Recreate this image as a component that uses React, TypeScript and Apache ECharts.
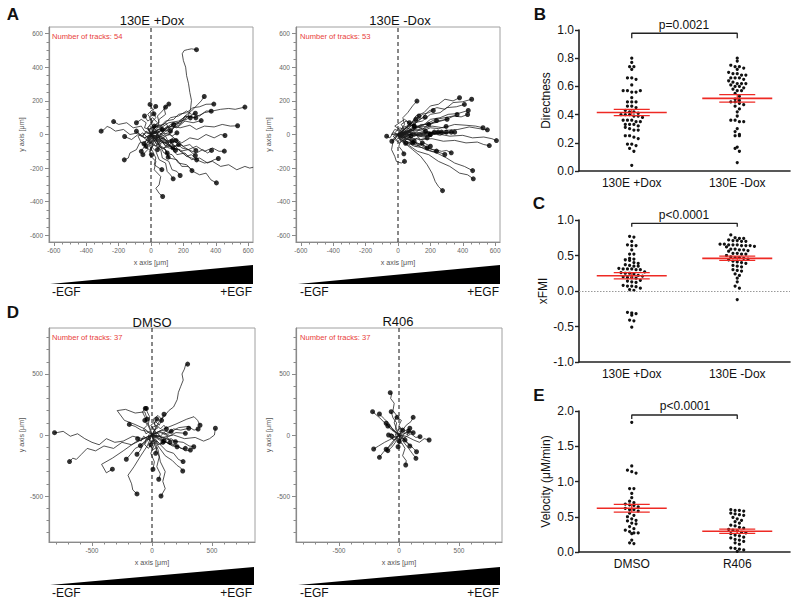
import React, { useEffect, useRef } from "react";
import * as echarts from "echarts";

const FONT = "'Liberation Sans', Arial, Helvetica, sans-serif";

// ---------- Panel B: Directness ----------
const catsB = ["130E +Dox", "130E -Dox"];
const directPlus = [0.80,0.77,0.74,0.74,0.72,0.66,0.66,0.65,0.61,0.57,0.57,0.56,0.56,0.57,0.52,0.49,0.49,0.49,0.46,0.46,0.45,0.43,0.42,0.42,0.41,0.40,0.40,0.40,0.39,0.39,0.38,0.36,0.36,0.36,0.35,0.35,0.33,0.33,0.33,0.32,0.31,0.30,0.29,0.29,0.25,0.25,0.24,0.23,0.19,0.19,0.18,0.16,0.14,0.04];
const directMinus = [0.80,0.78,0.75,0.74,0.74,0.73,0.72,0.70,0.69,0.69,0.68,0.68,0.66,0.66,0.66,0.65,0.64,0.63,0.62,0.62,0.62,0.61,0.60,0.60,0.59,0.58,0.57,0.57,0.55,0.53,0.51,0.50,0.49,0.49,0.48,0.47,0.46,0.44,0.42,0.39,0.36,0.36,0.35,0.35,0.30,0.28,0.26,0.25,0.25,0.17,0.16,0.14,0.06];
const directMean = [0.415, 0.515];
const directSem = [0.022, 0.026];
const directP = "p=0.0021";

// ---------- Panel C: xFMI ----------
const xfmiPlus = [0.77,0.76,0.70,0.65,0.64,0.64,0.58,0.52,0.52,0.46,0.45,0.44,0.43,0.40,0.39,0.37,0.36,0.35,0.35,0.32,0.31,0.31,0.31,0.30,0.30,0.27,0.26,0.25,0.25,0.24,0.22,0.21,0.20,0.19,0.19,0.18,0.15,0.14,0.13,0.12,0.08,0.07,0.07,0.06,0.04,0.02,0.01,-0.30,-0.31,-0.32,-0.34,-0.41,-0.42,-0.51];
const xfmiMinus = [0.79,0.75,0.74,0.74,0.72,0.71,0.71,0.70,0.70,0.66,0.66,0.65,0.65,0.65,0.64,0.64,0.64,0.63,0.62,0.59,0.59,0.58,0.58,0.57,0.56,0.53,0.53,0.52,0.52,0.50,0.48,0.47,0.47,0.46,0.45,0.44,0.42,0.41,0.40,0.39,0.36,0.35,0.34,0.30,0.29,0.28,0.24,0.22,0.18,0.13,0.07,0.04,-0.12];
const xfmiMean = [0.215, 0.46];
const xfmiSem = [0.045, 0.03];
const xfmiP = "p<0.0001";

// ---------- Panel E: Velocity ----------
const catsE = ["DMSO", "R406"];
const velDMSO = [1.84,1.22,1.16,1.14,1.12,0.90,0.90,0.83,0.77,0.72,0.70,0.68,0.67,0.66,0.64,0.62,0.60,0.60,0.58,0.55,0.52,0.50,0.47,0.45,0.44,0.41,0.40,0.36,0.33,0.31,0.29,0.27,0.27,0.26,0.17,0.13,0.12];
const velR406 = [0.60,0.59,0.59,0.58,0.55,0.54,0.53,0.52,0.49,0.47,0.45,0.43,0.41,0.38,0.37,0.35,0.34,0.32,0.31,0.30,0.28,0.27,0.26,0.24,0.23,0.21,0.20,0.18,0.17,0.15,0.13,0.11,0.06,0.05,0.04,0.03,0.01];
const velMean = [0.62, 0.295];
const velSem = [0.055, 0.03];
const velP = "p<0.0001";

// ---------- Track plots (x,y pairs in µm, each track starts at origin) ----------
const tracksDox: number[][] = [
  [0,0, 30,20, 50,-10, 90,30, 120,10, 150,60, 190,70, 230,110, 244,150, 250,203, 240,250, 232,302, 220,350, 214,401, 200,440, 193,481, 205,500, 224,505, 250,510, 281,505],
  [0,0, 40,-20, 70,10, 110,0, 140,40, 180,60, 210,110, 250,140, 290,180, 310,200, 329,226],
  [0,0, 20,40, 60,50, 90,80, 140,90, 170,120, 220,130, 260,160, 300,165, 340,180, 388,181],
  [0,0, 50,30, 100,20, 130,60, 190,80, 230,110, 270,100, 330,130, 380,140, 430,150, 480,155, 520,150, 580,163],
  [0,0, 30,-30, 70,0, 100,30, 140,40, 180,80, 220,90, 260,120, 300,110, 340,140, 372,139],
  [0,0, -20,30, 30,50, 80,30, 130,50, 180,40, 240,55, 280,30, 330,50, 390,45, 440,60, 490,50, 535,52],
  [0,0, 30,-30, 60,-10, 100,-40, 140,-20, 190,-50, 240,-20, 290,-30, 340,0, 390,-20, 430,0, 457,-6],
  [0,0, 40,-40, 90,-50, 130,-80, 180,-60, 230,-90, 280,-70, 330,-100, 380,-80, 420,-100, 453,-99],
  [0,0, 20,-40, 60,-30, 90,-70, 140,-60, 180,-100, 230,-90, 280,-110, 320,-90, 350,-110, 374,-95],
  [0,0, 30,-50, 80,-80, 120,-70, 160,-120, 210,-110, 250,-150, 300,-140, 350,-170, 390,-150, 416,-143],
  [0,0, 50,-60, 80,-110, 130,-120, 170,-170, 220,-180, 260,-220, 300,-240, 340,-230, 370,-270, 404,-288],
  [0,0, 40,-70, 90,-90, 110,-140, 160,-150, 190,-190, 230,-190, 253,-215],
  [0,0, 20,-60, 60,-90, 70,-140, 110,-160, 130,-210, 160,-220, 180,-244],
  [0,0, -10,-60, 30,-100, 50,-150, 90,-170, 100,-220, 120,-240, 137,-264],
  [0,0, 10,-60, -10,-120, 30,-160, 20,-210, 60,-250, 50,-300, 30,-320, 50,-350, 72,-369],
  [0,0, -20,-50, 10,-100, 30,-140, 20,-180, 50,-200, 67,-209],
  [0,0, 30,-30, 50,-70, 90,-90, 106,-135],
  [0,0, -20,-40, 10,-70, -10,-100, 4,-121],
  [0,0, 50,-40, 90,-30, 130,-80, 180,-90, 220,-130, 250,-120, 282,-151],
  [0,0, 60,-20, 100,-50, 150,-40, 190,-80, 230,-90, 274,-125],
  [0,0, 50,-10, 100,-40, 150,-30, 200,-70, 240,-60, 277,-95],
  [0,0, 40,30, 80,20, 120,60, 170,70, 210,110, 243,99],
  [0,0, 30,50, 80,60, 120,100, 170,110, 220,140, 250,120, 274,127],
  [0,0, 60,20, 110,50, 160,40, 210,80, 260,70, 310,83],
  [0,0, 20,50, 50,70, 40,110, 70,140, 90,163],
  [0,0, 40,40, 50,90, 90,120, 80,160, 110,181],
  [0,0, -20,40, 10,80, -20,120, 10,150, -6,179],
  [0,0, 20,30, 0,70, 30,100, 10,140, 29,167],
  [0,0, -20,40, 10,70, -10,100, 18,123],
  [0,0, -40,20, -60,50, -110,40, -150,70, -200,60, -231,77],
  [0,0, -40,-20, -80,10, -130,0, -170,30, -220,20, -250,40, -271,48, -290,30, -308,20],
  [0,0, -30,10, -60,-10, -90,20],
  [0,0, -40,-20, -80,0, -120,-30, -163,-12],
  [0,0, -30,-40, -70,-50, -90,-90, -130,-110, -140,-140, -165,-151],
  [0,0, -20,-20, -43,-56],
  [0,0, 40,-30, 80,-20, 110,-60, 151,-95],
  [0,0, 50,-20, 80,-50, 110,-60, 135,-79],
  [0,0, 40,20, 80,-10, 120,0, 155,-36],
  [0,0, 60,-40, 110,-80, 170,-90, 220,-130, 280,-150, 330,-170, 380,-160, 430,-190, 480,-180, 530,-210, 580,-190, 610,-200, 631,-195],
  [0,0, 60,40, 110,70, 170,80, 220,110, 277,99],
  [0,0, 20,-30, -10,-50, 30,-70, 60,-40, 40,10, 70,30],
  [0,0, -30,20, -50,-10, -20,-40, 10,-20, -10,30, 20,50],
  [0,0, 40,10, 20,40, 50,60, 80,30, 100,50, 120,20],
  [0,0, -20,-20, -50,10, -80,-10, -60,-50, -30,-70],
  [0,0, 10,40, 40,70, 10,100, -20,80, -40,110],
  [0,0, 30,-10, 60,-30, 90,-10, 110,-50, 80,-80, 100,-110],
  [0,0, -10,-40, 20,-60, -10,-90, -40,-70, -60,-100],
  [0,0, 50,20, 30,-20, 70,-10, 100,10, 130,-10, 160,10],
  [0,0, 20,20, 40,-10, 70,10, 60,50, 90,70, 110,40, 140,60],
  [0,0, -10,30, -40,40, -30,70, -60,90, -90,70],
  [0,0, 30,10, 50,-20, 80,-50, 120,-40, 140,-70, 170,-60],
  [0,0, -20,-10, -10,-40, -40,-60, -20,-90, -50,-120],
  [0,0, 10,20, 40,10, 30,-30, 60,-60, 40,-90],
  [0,0, -30,-30, 0,-50, 30,-30, 50,-60, 80,-40, 110,-70, 130,-40],
];

const tracksNoDox: number[][] = [
  [0,0, 20,30, 40,60, 30,100, 60,130, 90,170, 117,199],
  [0,0, 40,30, 80,60, 110,110, 160,130, 200,170, 250,180, 290,210, 340,200, 380,219],
  [0,0, 50,40, 100,60, 150,100, 190,140, 240,160, 290,150, 340,190, 400,195, 455,210],
  [0,0, 60,30, 100,70, 150,80, 200,120, 260,130, 300,160, 360,165, 410,179],
  [0,0, 50,10, 100,40, 150,50, 200,90, 260,100, 310,120, 370,125, 434,143],
  [0,0, 60,20, 120,50, 170,60, 230,90, 290,100, 340,110, 390,105, 430,119],
  [0,0, 40,30, 70,60, 110,80, 150,120, 190,130, 218,143],
  [0,0, 30,20, 60,50, 100,60, 130,90, 168,103],
  [0,0, 50,20, 100,30, 140,60, 190,60, 238,83],
  [0,0, 60,10, 120,40, 180,50, 240,80, 300,90, 365,119],
  [0,0, 50,20, 110,40, 160,60, 230,70, 303,91],
  [0,0, 50,0, 100,30, 150,20, 200,40, 250,35, 297,48],
  [0,0, 40,-10, 90,10, 140,-5, 190,15, 230,5, 269,14],
  [0,0, 60,15, 120,-5, 170,20, 230,5, 299,14],
  [0,0, 50,-10, 110,15, 170,0, 240,20, 290,5, 329,14],
  [0,0, 70,10, 130,-10, 200,10, 260,-5, 310,15, 350,14],
  [0,0, 50,10, 100,-10, 160,5, 224,14],
  [0,0, 60,20, 120,0, 190,15, 248,14],
  [0,0, 40,-20, 90,10, 140,-10, 198,0],
  [0,0, 70,20, 140,30, 210,50, 280,40, 350,60, 420,55, 480,50, 525,40],
  [0,0, 70,-10, 150,15, 220,5, 300,25, 370,30, 440,45, 500,35, 552,28],
  [0,0, 80,0, 160,-15, 240,5, 320,-10, 400,-5, 460,-20, 530,-15, 580,-25, 608,-36],
  [0,0, 70,-20, 140,-30, 210,-25, 280,-40, 350,-35, 420,-50, 490,-45, 530,-60, 564,-66],
  [0,0, 60,-30, 120,-50, 170,-80, 220,-90, 270,-100, 300,-95, 329,-109],
  [0,0, 50,-40, 100,-70, 160,-80, 210,-100, 250,-105, 289,-119],
  [0,0, 50,-20, 100,-50, 150,-60, 200,-85, 238,-99],
  [0,0, 15,-40, 5,-70, 25,-95, 36,-115],
  [0,0, -20,-15, -30,-30, -38,-40],
  [0,0, 50,-40, 110,-60, 170,-90, 240,-110, 300,-140, 350,-170, 410,-190, 461,-215],
  [0,0, 60,-60, 120,-100, 190,-120, 250,-160, 320,-190, 380,-230, 430,-240, 465,-264],
  [0,0, 40,-50, 90,-90, 140,-130, 180,-180, 210,-230, 230,-280, 250,-310, 275,-334],
  [0,0, 20,-30, 47,-52],
  [0,0, -30,-40, -40,-90, -20,-130, -10,-160, 20,-170, 40,-160],
  [0,0, 40,40, 80,70, 130,110],
  [0,0, -30,10, -50,-20, -70,-10],
  [0,0, 20,20, 50,0, 80,30, 110,10, 140,40, 170,20],
  [0,0, 30,-20, 60,-10, 90,-40, 120,-20, 150,-50],
  [0,0, -20,10, 10,40, 40,30, 70,60, 100,50],
  [0,0, 20,-40, 50,-60, 80,-40, 110,-70, 150,-60, 180,-80],
  [0,0, -30,-10, -10,-30, 20,-10, 50,-30, 80,-10],
  [0,0, 10,30, -20,50, 10,70, 40,90, 70,70],
  [0,0, 40,0, 70,20, 100,-10, 130,10, 160,-10, 200,0],
  [0,0, 20,10, 0,-20, 30,-40, 60,-20, 90,-50],
  [0,0, 30,10, 60,40, 90,20, 120,50, 150,30, 190,60],
  [0,0, 20,-20, 50,10, 80,-20, 110,0, 140,-30, 180,-20],
  [0,0, -20,-30, 10,-50, 40,-30, 70,-60, 100,-40],
  [0,0, 40,30, 20,60, 50,80, 80,60, 110,90],
  [0,0, -40,0, -20,30, 10,20, 40,50, 70,30, 100,50],
  [0,0, 30,0, 50,-30, 90,-30, 120,-60, 160,-50, 200,-70],
];

const tracksDMSO: number[][] = [
  [0,0, 30,50, 60,110, 100,150, 140,200, 180,230, 210,290, 220,350, 240,400, 260,450, 250,500, 270,540, 280,575, 297,581],
  [0,0, -20,50, -40,100, -60,150, -80,190, -56,218],
  [0,0, -10,40, -30,90, -20,150, -40,190, -47,218],
  [0,0, -40,30, -90,40, -140,70, -189,87],
  [0,0, 60,30, 120,10, 180,50, 240,40, 306,55],
  [0,0, 80,40, 150,20, 220,60, 300,70, 350,40, 384,49],
  [0,0, 90,-20, 180,0, 270,-30, 360,-20, 430,-50, 480,-30, 520,0, 528,55],
  [0,0, 70,20, 140,-10, 200,20, 278,14],
  [0,0, 60,-10, 120,-40, 160,-30, 195,-55],
  [0,0, 60,-40, 120,-60, 170,-90, 209,-96],
  [0,0, 70,-30, 140,-70, 200,-80, 240,-110, 278,-109],
  [0,0, 80,-40, 160,-80, 230,-100, 280,-130, 320,-123],
  [0,0, 100,-20, 180,-50, 260,-60, 310,-90, 348,-96],
  [0,0, 60,-70, 120,-130, 180,-150, 220,-200, 259,-218],
  [0,0, 50,-90, 110,-170, 170,-210, 210,-250, 240,-270, 256,-295],
  [0,0, -80,-30, -160,-10, -240,-50, -310,-60, -380,-30, -440,-80, -500,-60, -560,-30, -620,10, -680,-10, -740,30, -790,20, -812,19],
  [0,0, -90,-40, -170,-80, -250,-60, -320,-110, -400,-90, -470,-130, -540,-110, -590,-160, -630,-200, -660,-190, -687,-218],
  [0,0, -50,-40, -100,-90, -140,-110, -180,-160, -214,-199],
  [0,0, -40,-50, -80,-90, -100,-130, -125,-158],
  [0,0, -30,-30, -60,-60, -97,-87],
  [0,0, 20,-80, -10,-150, 20,-220, 8,-281],
  [0,0, 30,-100, 60,-180, 40,-260, 70,-320, 56,-363],
  [0,0, 50,-120, 70,-220, 110,-300, 90,-380, 110,-440, 75,-500],
  [0,0, -40,-90, -100,-180, -150,-260, -200,-330, -170,-400, -160,-450, -125,-483],
  [0,0, -140,-60, -240,-130, -330,-190, -420,-240, -380,-310, -330,-280],
  [0,0, 100,50, 200,90, 290,130, 350,150, 380,120, 400,80],
  [0,0, -60,50, -150,90, -230,120, -290,200, -220,210, -140,180, -60,190, -40,130],
  [0,0, 20,40, -10,80, 30,110, 60,80, 80,120],
  [0,0, -30,-20, -10,-60, 30,-40, 50,-80, 90,-60],
  [0,0, 40,20, 70,-10, 100,20, 130,0, 160,30],
  [0,0, -20,30, -50,10, -70,50, -40,80, -60,120],
  [0,0, 10,-40, -20,-80, 10,-120, 40,-100, 30,-150],
  [0,0, 30,60, 10,130, 50,160, 80,130, 100,170],
  [0,0, -40,-30, -70,-10, -90,-50, -120,-30],
  [0,0, 30,30, 0,60, 40,80, 70,50, 100,80, 120,50],
  [0,0, -30,0, -20,-40, 10,-70, 40,-50, 70,-80, 100,-50],
  [0,0, 20,-20, 60,0, 90,-40, 130,-20, 150,-60],
  [0,0, -20,-40, -50,-30, -60,-80, -30,-110, -10,-80],
  [0,0, 40,-10, 20,40, 50,60, 20,90, 40,130],
];

const tracksR406: number[][] = [
  [0,0, -20,50, -40,100, -20,160, -50,200, -40,260, -70,300, -60,340, -73,347],
  [0,0, -30,50, -20,100, -50,140, -65,191],
  [0,0, -60,40, -110,90, -160,140, -220,191],
  [0,0, -50,40, -80,90, -120,130, -163,172],
  [0,0, 20,40, 0,80, 20,120, -17,145],
  [0,0, 30,40, 60,80, 100,110, 118,145],
  [0,0, -30,30, -60,60, -107,96],
  [0,0, -20,20, -50,40, -93,74],
  [0,0, -30,-20, -60,10, -87,0],
  [0,0, 30,20, 60,40, 90,55],
  [0,0, 40,10, 80,30, 118,19],
  [0,0, 50,-20, 100,10, 140,-20, 175,-14],
  [0,0, 60,-10, 120,-40, 170,-60, 210,-30, 251,-41],
  [0,0, 50,-40, 90,-80, 120,-110, 146,-137],
  [0,0, 40,-60, 80,-110, 110,-150, 141,-191],
  [0,0, 20,-60, 50,-110, 30,-170, 60,-210, 56,-246],
  [0,0, -50,-50, -90,-100, -130,-140, -163,-183],
  [0,0, -60,-30, -120,-60, -170,-90, -211,-115],
  [0,0, -40,-50, -70,-90, -107,-117],
  [0,0, -30,-60, -60,-100, -93,-128],
  [0,0, 10,-50, -8,-96],
  [0,0, 40,-40, 70,-70, 90,-90],
  [0,0, 20,20, -10,40, 10,60, 30,40],
  [0,0, -20,-20, 10,-40, 30,-20, 50,-40],
  [0,0, 30,-10, 50,20, 70,0, 80,30],
  [0,0, -30,10, -20,-30, -50,-40, -60,-10],
  [0,0, 10,-30, -10,-60, 20,-70, 0,-50],
];

const trackTitles = ["130E +Dox", "130E -Dox", "DMSO", "R406"];
const trackCounts = [54, 53, 37, 37];
const ticksA = [-600, -400, -200, 0, 200, 400, 600];
const ticksD = [-500, 0, 500];

function range(a: number, b: number, step: number) {
  const r: number[] = [];
  for (let v = a; v <= b + 1e-9; v += step) r.push(Math.round(v));
  return r;
}

function toPts(flat: number[]) {
  const pts: number[][] = [];
  for (let i = 0; i < flat.length; i += 2) pts.push([flat[i], flat[i + 1]]);
  return pts;
}

// horizontal spreading of dots that share a pixel row (column-scatter layout)
function swarmOffsets(values: number[], pxPerUnit: number, rowPx = 4.2, stepPx = 4.3) {
  const rows = new Map<number, number[]>();
  values.forEach((v, i) => {
    const r = Math.round((v * pxPerUnit) / rowPx);
    if (!rows.has(r)) rows.set(r, []);
    rows.get(r)!.push(i);
  });
  const off = new Array(values.length).fill(0);
  rows.forEach((ids) => {
    const n = ids.length;
    ids.forEach((id, j) => {
      off[id] = (j - (n - 1) / 2) * stepPx;
    });
  });
  return off;
}

export default function App() {
  const ref = useRef<HTMLDivElement>(null);

  useEffect(() => {
    if (!ref.current) return;
    const chart = echarts.init(ref.current, undefined, { renderer: "svg" });

    const trackPanels = [
      { tracks: tracksDox, rx: 630, ry: 640, major: ticksA, minor: range(-600, 600, 50), grid: { left: 49, top: 27, width: 204, height: 215 } },
      { tracks: tracksNoDox, rx: 630, ry: 640, major: ticksA, minor: range(-600, 600, 50), grid: { left: 296, top: 27, width: 204, height: 215 } },
      { tracks: tracksDMSO, rx: 858, ry: 877, major: ticksD, minor: range(-800, 800, 100), grid: { left: 49, top: 328, width: 206, height: 214 } },
      { tracks: tracksR406, rx: 858, ry: 877, major: ticksD, minor: range(-800, 800, 100), grid: { left: 296, top: 328, width: 206, height: 214 } },
    ];

    const dotPanels = [
      { cats: catsB, groups: [directPlus, directMinus], mean: directMean, sem: directSem, min: 0, max: 1, interval: 0.2, name: "Directness", grid: { left: 579, top: 30, width: 211, height: 141 }, bracket: [0.941, 0.977], zero: false },
      { cats: catsB, groups: [xfmiPlus, xfmiMinus], mean: xfmiMean, sem: xfmiSem, min: -1, max: 1, interval: 0.5, name: "xFMI", grid: { left: 579, top: 220, width: 211, height: 142 }, bracket: [0.906, 0.953], zero: true },
      { cats: catsE, groups: [velDMSO, velR406], mean: velMean, sem: velSem, min: 0, max: 2, interval: 0.5, name: "Velocity (\u03bcM/min)", grid: { left: 579, top: 411, width: 211, height: 141 }, bracket: [1.887, 1.943], zero: false },
    ];

    const grids: any[] = [];
    const xAxes: any[] = [];
    const yAxes: any[] = [];
    const series: any[] = [];
    const axisGray = "#8a8a8a";

    trackPanels.forEach((p, g) => {
      grids.push({ ...p.grid, show: true, borderColor: "#a0a0a0", borderWidth: 1, backgroundColor: "transparent" });
      const common = { type: "value", gridIndex: g, splitLine: { show: false } };
      xAxes.push({
        ...common, min: -p.rx, max: p.rx, position: "bottom",
        axisLine: { onZero: false, lineStyle: { color: axisGray, width: 1.2 } },
        axisTick: { customValues: p.major, length: 4, lineStyle: { color: axisGray } },
        axisLabel: { customValues: p.major, fontSize: 6.5, color: "#666", margin: 5, fontFamily: FONT },
        name: "x axis [\u03bcm]", nameLocation: "middle", nameGap: 17,
        nameTextStyle: { fontSize: 7.2, color: "#555", fontFamily: FONT },
      });
      xAxes.push({
        ...common, min: -p.rx, max: p.rx, position: "bottom",
        axisLine: { show: false, onZero: false },
        axisTick: { customValues: p.minor, length: 2.5, lineStyle: { color: axisGray } },
        axisLabel: { show: false },
      });
      yAxes.push({
        ...common, min: -p.ry, max: p.ry, position: "left",
        axisLine: { onZero: false, lineStyle: { color: axisGray, width: 1.2 } },
        axisTick: { customValues: p.major, length: 4, lineStyle: { color: axisGray } },
        axisLabel: { customValues: p.major, fontSize: 6.5, color: "#666", margin: 6, fontFamily: FONT },
        name: "y axis [\u03bcm]", nameLocation: "middle", nameGap: 24, nameRotate: 90,
        nameTextStyle: { fontSize: 7.2, color: "#555", fontFamily: FONT },
      });
      yAxes.push({
        ...common, min: -p.ry, max: p.ry, position: "left",
        axisLine: { show: false, onZero: false },
        axisTick: { customValues: p.minor, length: 2.5, lineStyle: { color: axisGray } },
        axisLabel: { show: false },
      });
      // dashed x = 0 line
      series.push({
        type: "line", xAxisIndex: 2 * g, yAxisIndex: 2 * g, silent: true, symbol: "none",
        data: [[0, -p.ry], [0, p.ry]],
        lineStyle: { color: "#111", width: 1, type: [4, 3] },
      });
      series.push({
        type: "lines", coordinateSystem: "cartesian2d", xAxisIndex: 2 * g, yAxisIndex: 2 * g,
        polyline: true, silent: true, clip: true,
        lineStyle: { color: "#1a1a1a", width: 0.75, opacity: 1 },
        data: p.tracks.map((t) => ({ coords: toPts(t) })),
      });
      series.push({
        type: "scatter", xAxisIndex: 2 * g, yAxisIndex: 2 * g, silent: true,
        symbol: "circle", symbolSize: 5, itemStyle: { color: "#000" },
        data: p.tracks.map((t) => t.slice(-2)),
      });
    });

    dotPanels.forEach((p, k) => {
      const gi = 4 + k;
      const ai = 8 + k;
      grids.push({ ...p.grid });
      xAxes.push({
        type: "category", gridIndex: gi, data: p.cats, boundaryGap: true,
        axisLine: { onZero: false, lineStyle: { color: "#222", width: 1.6 } },
        axisTick: { alignWithLabel: true, length: 4, lineStyle: { color: "#222", width: 1.4 } },
        axisLabel: { fontSize: 12, color: "#111", margin: 6, fontFamily: FONT },
        splitLine: { show: false },
      });
      yAxes.push({
        type: "value", gridIndex: gi, min: p.min, max: p.max, interval: p.interval,
        axisLine: { show: true, onZero: false, lineStyle: { color: "#222", width: 1.6 } },
        axisTick: { show: true, length: 4, lineStyle: { color: "#222", width: 1.4 } },
        axisLabel: { fontSize: 12, color: "#111", margin: 5, fontFamily: FONT, formatter: (v: number) => v.toFixed(1) },
        splitLine: { show: false },
        name: p.name, nameLocation: "middle", nameGap: 27, nameRotate: 90,
        nameTextStyle: { fontSize: 12, color: "#111", fontFamily: FONT },
      });
      const pxPerUnit = p.grid.height / (p.max - p.min);
      const dots: number[][] = [];
      p.groups.forEach((vals, c) => {
        const off = swarmOffsets(vals, pxPerUnit);
        vals.forEach((v, i) => dots.push([c, v, off[i]]));
      });
      // bracket + optional zero line
      series.push({
        type: "line", xAxisIndex: ai, yAxisIndex: ai, silent: true, symbol: "none",
        data: [[0, p.bracket[0]], [0, p.bracket[1]], [1, p.bracket[1]], [1, p.bracket[0]]],
        lineStyle: { color: "#222", width: 1.3 },
        markLine: p.zero
          ? { silent: true, symbol: "none", label: { show: false }, data: [{ yAxis: 0 }], lineStyle: { color: "#999", type: [1.5, 1.5], width: 1 } }
          : undefined,
      });
      series.push({
        type: "custom", xAxisIndex: ai, yAxisIndex: ai, silent: true,
        data: dots,
        renderItem: (_params: any, api: any) => {
          const pt = api.coord([api.value(0), api.value(1)]);
          return { type: "circle", shape: { cx: pt[0] + api.value(2), cy: pt[1], r: 1.6 }, style: { fill: "#111" } };
        },
      });
      series.push({
        type: "custom", xAxisIndex: ai, yAxisIndex: ai, silent: true, z: 5,
        data: p.mean.map((m, c) => [c, m, p.sem[c]]),
        renderItem: (_params: any, api: any) => {
          const c = api.value(0), m = api.value(1), s = api.value(2);
          const pm = api.coord([c, m]);
          const pt = api.coord([c, m + s]);
          const pb = api.coord([c, m - s]);
          const red = "#ee2a24";
          return {
            type: "group",
            children: [
              { type: "line", shape: { x1: pm[0] - 35, y1: pm[1], x2: pm[0] + 35, y2: pm[1] }, style: { stroke: red, lineWidth: 1.6 } },
              { type: "line", shape: { x1: pt[0] - 18, y1: pt[1], x2: pt[0] + 18, y2: pt[1] }, style: { stroke: red, lineWidth: 1.2 } },
              { type: "line", shape: { x1: pb[0] - 18, y1: pb[1], x2: pb[0] + 18, y2: pb[1] }, style: { stroke: red, lineWidth: 1.2 } },
              { type: "line", shape: { x1: pt[0], y1: pt[1], x2: pb[0], y2: pb[1] }, style: { stroke: red, lineWidth: 1.2 } },
            ],
          };
        },
      });
    });

    const txt = (text: string, x: number, y: number, size: number, opts: any = {}) => ({
      type: "text", x, y, silent: true,
      style: { text, fill: opts.fill || "#111", font: `${opts.bold ? "bold " : ""}${size}px ${FONT}`, align: opts.align || "center", verticalAlign: "middle" },
    });

    const graphic: any[] = [
      txt("A", 13, 14, 17, { bold: true }),
      txt("B", 540, 14, 17, { bold: true }),
      txt("C", 539, 203, 17, { bold: true }),
      txt("D", 13, 312, 17, { bold: true }),
      txt("E", 539, 395, 17, { bold: true }),
      txt(trackTitles[0], 152, 20, 13),
      txt(trackTitles[1], 400, 20, 13),
      txt(trackTitles[2], 152, 322, 13),
      txt(trackTitles[3], 398, 321, 13),
      txt(`Number of tracks: ${trackCounts[0]}`, 52, 36, 7.6, { align: "left", fill: "#e8403a" }),
      txt(`Number of tracks: ${trackCounts[1]}`, 300, 36, 7.6, { align: "left", fill: "#e8403a" }),
      txt(`Number of tracks: ${trackCounts[2]}`, 52, 337, 7.6, { align: "left", fill: "#e8403a" }),
      txt(`Number of tracks: ${trackCounts[3]}`, 300, 337, 7.6, { align: "left", fill: "#e8403a" }),
      { type: "polygon", silent: true, shape: { points: [[50, 284], [253, 265], [253, 284]] }, style: { fill: "#000" } },
      { type: "polygon", silent: true, shape: { points: [[298, 284], [500, 265], [500, 284]] }, style: { fill: "#000" } },
      { type: "polygon", silent: true, shape: { points: [[50, 585], [254, 567], [254, 585]] }, style: { fill: "#000" } },
      { type: "polygon", silent: true, shape: { points: [[298, 585], [500, 567], [500, 585]] }, style: { fill: "#000" } },
      txt("-EGF", 52, 292, 12, { align: "left" }),
      txt("+EGF", 252, 292, 12, { align: "right" }),
      txt("-EGF", 300, 292, 12, { align: "left" }),
      txt("+EGF", 499, 292, 12, { align: "right" }),
      txt("-EGF", 52, 593, 12, { align: "left" }),
      txt("+EGF", 252, 593, 12, { align: "right" }),
      txt("-EGF", 300, 593, 12, { align: "left" }),
      txt("+EGF", 499, 593, 12, { align: "right" }),
      txt(directP, 684, 25, 12),
      txt(xfmiP, 684, 215, 12),
      txt(velP, 685, 406, 12),
    ];

    chart.setOption({
      animation: false,
      backgroundColor: "#fff",
      textStyle: { fontFamily: FONT },
      grid: grids,
      xAxis: xAxes,
      yAxis: yAxes,
      series,
      graphic,
    });

    return () => chart.dispose();
  }, []);

  return (
    <div
      ref={ref}
      style={{ position: "absolute", left: 0, top: 0, width: 800, height: 604, background: "#fff" }}
    />
  );
}
